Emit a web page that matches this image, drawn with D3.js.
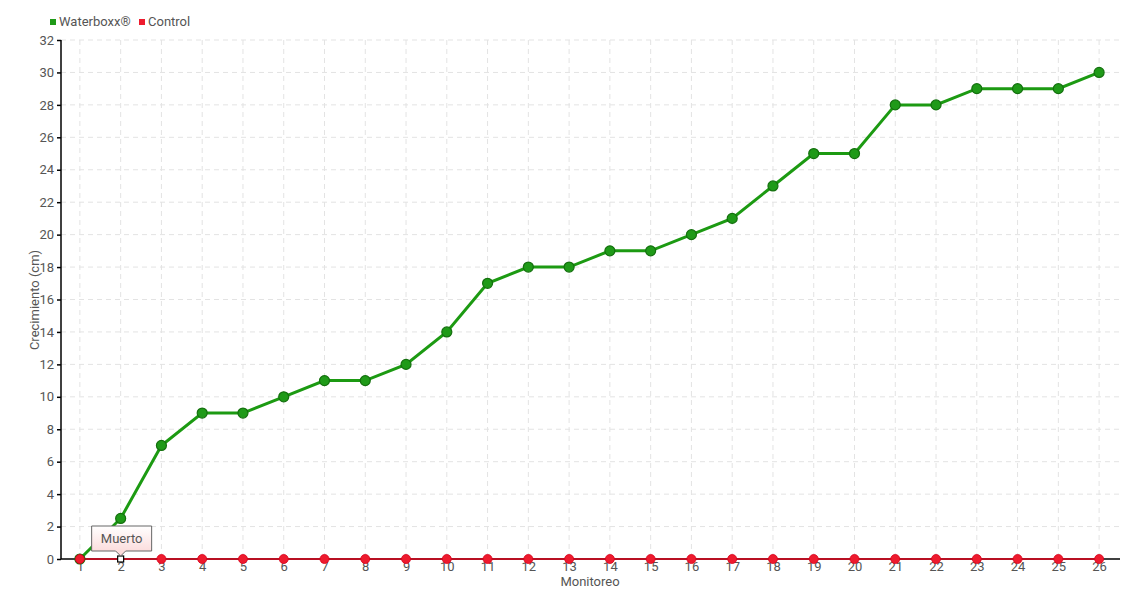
<!DOCTYPE html>
<html><head><meta charset="utf-8">
<script src="https://cdn.jsdelivr.net/npm/d3@7"></script>
<style>
body{margin:0;background:#fff;}
text{font-family:"Roboto","DejaVu Sans",sans-serif;}
</style></head>
<body><svg id="c" width="1140" height="600"></svg>
<script>
const categories = d3.range(1,27).map(String);
const waterboxx = [0,2.5,7,9,9,10,11,11,12,14,17,18,18,19,19,20,21,23,25,25,28,28,29,29,29,30];
const control = [0,0,0,0,0,0,0,0,0,0,0,0,0,0,0,0,0,0,0,0,0,0,0,0,0,0];
const yTicks = d3.range(0,33,2);
const seriesNames = ["Waterboxx®","Control"];
const deadIndex = 1; // control plant "Muerto" at monitoreo 2
const tooltipText = "Muerto";

const svg = d3.select("#c");
const L=61, R=1120, T=40, B=559;
const x = d3.scalePoint().domain(categories).range([59.5,1119.5]).padding(0.5);
const y = d3.scaleLinear().domain([0,32]).range([B,T]);
const defs = svg.append("defs");
const g1 = defs.append("linearGradient").attr("id","tip").attr("x1",0).attr("y1",0).attr("x2",0).attr("y2",1);
g1.append("stop").attr("offset","0").attr("stop-color","#ffffff");
g1.append("stop").attr("offset","1").attr("stop-color","#fbd6d6");

// grid
svg.append("g").selectAll("line").data(yTicks.filter(d=>d>0)).join("line")
  .attr("x1",L).attr("x2",R).attr("y1",d=>y(d)).attr("y2",d=>y(d))
  .attr("stroke","#e3e3e3").attr("stroke-dasharray","5,4");
svg.append("g").selectAll("line").data(categories).join("line")
  .attr("x1",d=>x(d)).attr("x2",d=>x(d)).attr("y1",T).attr("y2",B)
  .attr("stroke","#e3e3e3").attr("stroke-dasharray","5,4");

// axes
const ya = svg.append("g").attr("transform",`translate(${L},0)`)
  .call(d3.axisLeft(y).tickValues(yTicks).tickSize(4).tickPadding(3));
ya.select(".domain").attr("d",`M0,${T}V${B}`).attr("stroke","#000").attr("stroke-width",1.5);
ya.selectAll(".tick line").attr("stroke","#000").attr("stroke-width",1.5);
ya.selectAll("text").attr("fill","#555").attr("font-size",13).style("font-family","Roboto, sans-serif");

const xa = svg.append("g").attr("transform",`translate(0,${B})`)
  .call(d3.axisBottom(x).tickSize(0).tickPadding(3));
xa.select(".domain").attr("d",`M${L},0H${R}`).attr("stroke","#000").attr("stroke-width",1.5);
xa.selectAll("text").attr("fill","#555").attr("font-size",13);

// titles
svg.append("text").attr("x",590).attr("y",586).attr("text-anchor","middle")
  .attr("fill","#555").attr("font-size",13).text("Monitoreo");
svg.append("text").attr("transform","translate(39,300) rotate(-90)").attr("text-anchor","middle")
  .attr("fill","#555").attr("font-size",13).text("Crecimiento (cm)");

// lines
const line = d3.line().x((d,i)=>x(categories[i])).y(d=>y(d));
svg.append("path").datum(waterboxx).attr("d",line).attr("fill","none")
  .attr("stroke","#1c9a12").attr("stroke-width",3);
svg.append("path").datum(control).attr("d",line).attr("fill","none")
  .attr("stroke","#e0001a").attr("stroke-width",1.5);

svg.append("g").selectAll("circle").data(waterboxx).join("circle")
  .attr("cx",(d,i)=>x(categories[i])).attr("cy",d=>y(d)).attr("r",5)
  .attr("fill","#1f9a18").attr("stroke","#14700e").attr("stroke-width",1.2);
svg.append("g").selectAll("circle").data(control).join("circle")
  .attr("cx",(d,i)=>x(categories[i])).attr("cy",d=>y(d)).attr("r",d=>4.5)
  .attr("fill","#ee1b2e").attr("stroke","#d8001a").attr("stroke-width",0.8)
  .filter((d,i)=>i===deadIndex).attr("r",0);
// dead marker
const dx = x(categories[deadIndex]), dy = y(control[deadIndex]);
svg.append("rect").attr("x",dx-3).attr("y",dy-3).attr("width",6).attr("height",6)
  .attr("fill","#fff").attr("stroke","#000").attr("stroke-width",1.2);

// tooltip
const tw=60, th=25, tx=dx-29, ty=dy-33;
svg.append("path")
  .attr("d",`M${tx},${ty}h${tw}v${th}H${dx+5}l-5,5l-5,-5H${tx}Z`)
  .attr("fill","url(#tip)").attr("stroke","#666").attr("stroke-width",1);
svg.append("text").attr("x",tx+tw/2).attr("y",ty+17).attr("text-anchor","middle")
  .attr("fill","#555").attr("font-size",13).text(tooltipText);

// legend
const colors=["#1f9a18","#ee1b2e"];
const lg = svg.append("g");
const lx=[50,139];
seriesNames.forEach((n,i)=>{
  lg.append("rect").attr("x",lx[i]).attr("y",19).attr("width",6).attr("height",6).attr("fill",colors[i]);
  lg.append("text").attr("x",lx[i]+9).attr("y",26).attr("fill","#555").attr("font-size",13).text(n);
});
</script></body></html>
